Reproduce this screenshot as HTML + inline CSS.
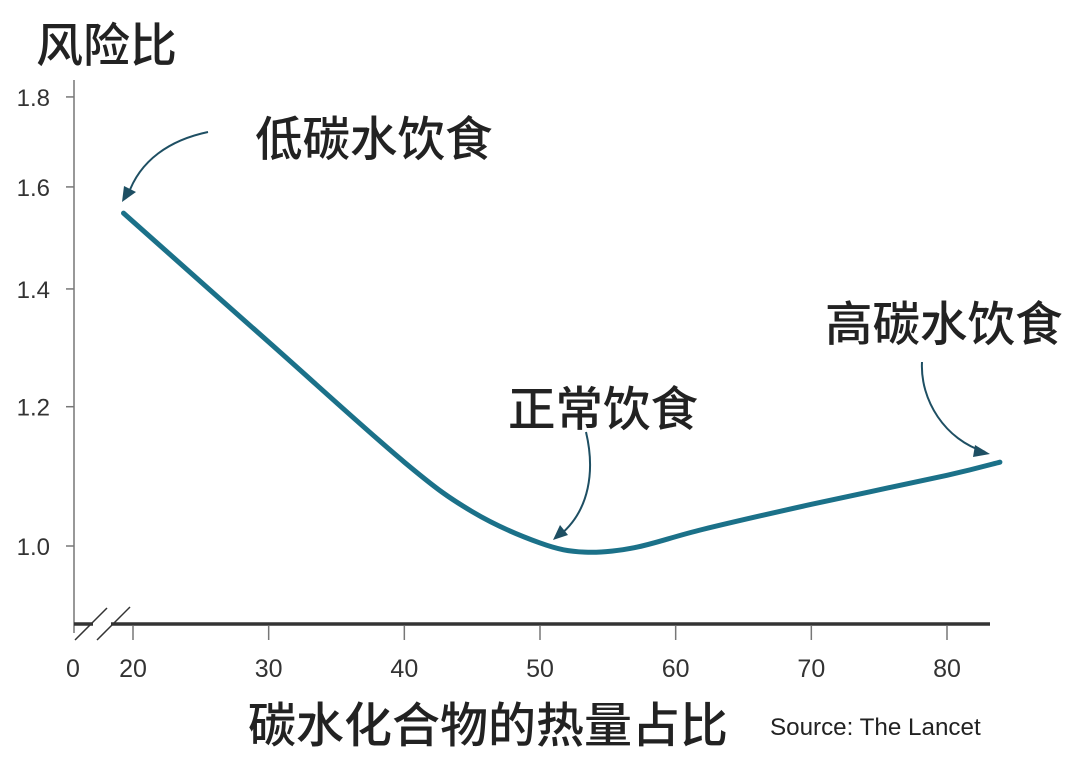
<!DOCTYPE html>
<html><head><meta charset="utf-8"><style>
body{margin:0;background:#fff;}
svg{display:block;font-family:"Liberation Sans","Noto Sans CJK SC",sans-serif;}
.cjk{font-family:"Noto Sans CJK SC",sans-serif;font-weight:500;}
</style></head><body>
<svg id="chart" width="1080" height="761" viewBox="0 0 1080 761">
<text class="cjk" x="36" y="62" font-size="47" fill="#222">风险比</text>
<line x1="74" y1="80" x2="74" y2="633" stroke="#777" stroke-width="1.5"/>
<line x1="74" y1="624" x2="990" y2="624" stroke="#333" stroke-width="3.5"/>
<g>
<rect x="93" y="620" width="18" height="9" fill="#fff"/>
<line x1="75" y1="640" x2="107" y2="608" stroke="#333" stroke-width="1.5"/>
<line x1="97" y1="640" x2="130" y2="607" stroke="#333" stroke-width="1.5"/>
</g>
<g id="yt"></g><g id="xt"></g>
<path id="curve" fill="none" stroke="#1b7189" stroke-width="5" stroke-linecap="round"/>
<g class="cjk" font-size="47.5" fill="#222">
<text x="255" y="156">低碳水饮食</text>
<text x="508" y="426">正常饮食</text>
<text x="825" y="341">高碳水饮食</text>
</g>
<g fill="none" stroke="#1e4f63" stroke-width="2">
<path d="M208,132 C170,140 140,160 128,195"/>
<path d="M586,432 C595,470 590,510 560,535"/>
<path d="M922,362 C920,400 945,440 985,452"/>
</g>
<g fill="#1e4f63">
<polygon points="122,202 124,186 136,192"/>
<polygon points="553,540 560,525 568,535"/>
<polygon points="990,454 975,445 973,457"/>
</g>
<text class="cjk" x="248" y="742" font-size="48" fill="#222">碳水化合物的热量占比</text>
<text x="770" y="735" font-size="24.2" fill="#222">Source: The Lancet</text>
</svg>
<script>
const yTicks=[1.0,1.2,1.4,1.6,1.8];
const xTicks=[20,30,40,50,60,70,80];
const carbPct=[19.3,30,40,45,50,53.3,57,62,70,80,83.9];
const hazard=[1.546,1.306,1.116,1.046,1.004,0.992,0.998,1.022,1.056,1.097,1.116];
const NS="http://www.w3.org/2000/svg";
function X(v){return 133+(v-20)*(947-133)/60;}
function Y(v){return 546-Math.log(v)*764;}
const yt=document.getElementById('yt'),xt=document.getElementById('xt');
yTicks.forEach(t=>{
 const l=document.createElementNS(NS,'line');
 l.setAttribute('x1',66);l.setAttribute('x2',74);l.setAttribute('y1',Y(t));l.setAttribute('y2',Y(t));
 l.setAttribute('stroke','#777');l.setAttribute('stroke-width','1.5');
 
 
 yt.appendChild(l);
 const s=document.createElementNS(NS,'text');
 s.setAttribute('x',50);s.setAttribute('y',Y(t)+9);s.setAttribute('font-size','24');s.setAttribute('text-anchor','end');s.setAttribute('fill','#333');
 s.textContent=t.toFixed(1);
 
 
 yt.appendChild(s);
});
function xl(v,x,tick){
 if(tick){const l=document.createElementNS(NS,'line');
 l.setAttribute('x1',x);l.setAttribute('x2',x);l.setAttribute('y1',626);l.setAttribute('y2',640);
 l.setAttribute('stroke','#777');l.setAttribute('stroke-width','1.5');
 
 
 xt.appendChild(l);}
 const s=document.createElementNS(NS,'text');
 s.setAttribute('x',x);s.setAttribute('y',677);s.setAttribute('font-size','25');s.setAttribute('text-anchor','middle');s.setAttribute('fill','#333');
 s.textContent=v;
 
 
 xt.appendChild(s);
}
xl(0,73,false);
xTicks.forEach(t=>xl(t,X(t),true));
const pts=carbPct.map((c,i)=>[X(c),Y(hazard[i])]);
let d='M'+pts[0][0]+','+pts[0][1];
for(let i=0;i<pts.length-1;i++){
 const p0=pts[Math.max(0,i-1)],p1=pts[i],p2=pts[i+1],p3=pts[Math.min(pts.length-1,i+2)];
 const c1=[p1[0]+(p2[0]-p0[0])/6,p1[1]+(p2[1]-p0[1])/6];
 const c2=[p2[0]-(p3[0]-p1[0])/6,p2[1]-(p3[1]-p1[1])/6];
 d+=' C'+c1+' '+c2+' '+p2;
}
document.getElementById('curve').setAttribute('d',d);
</script>
</body></html>
